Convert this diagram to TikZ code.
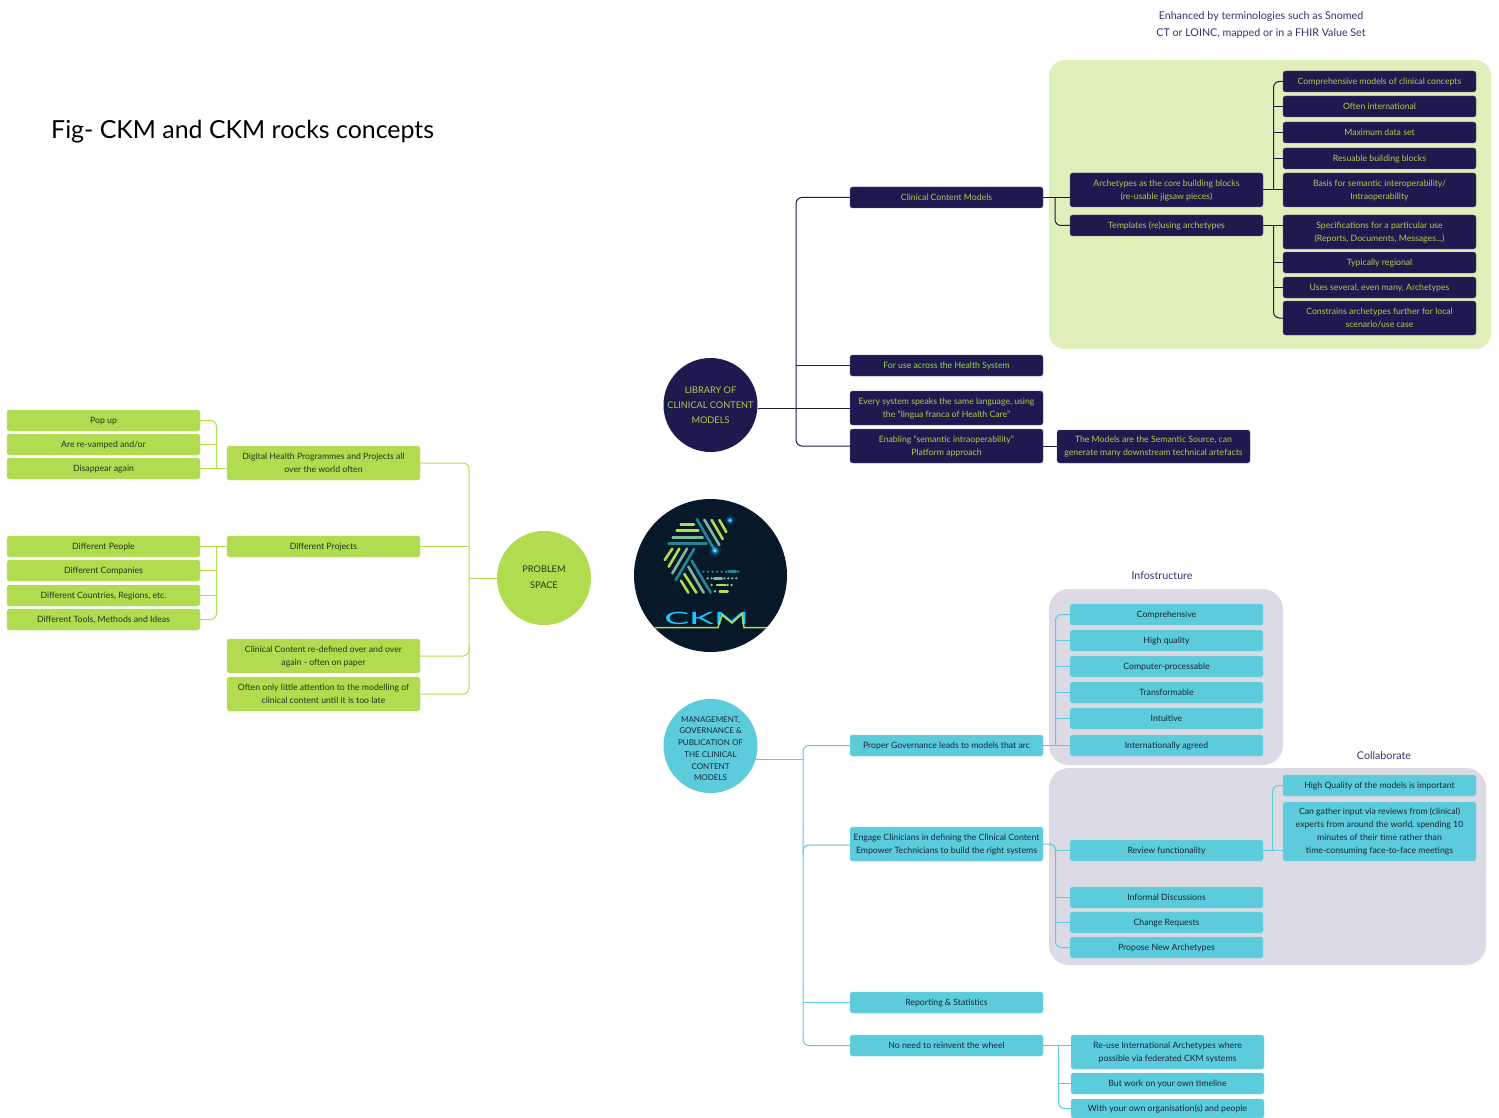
\documentclass[tikz,border=0pt]{standalone}
\usepackage{fontspec}
\setmainfont{Lato}
\definecolor{navy}{HTML}{1E1A4F}
\definecolor{lime}{HTML}{B2DC50}
\definecolor{limetxt}{HTML}{A9D04C}
\definecolor{tealb}{HTML}{5CCBDC}
\definecolor{darkt}{HTML}{14283A}
\definecolor{greent}{HTML}{24331A}
\definecolor{panelg}{HTML}{E0F0BB}
\definecolor{panelq}{HTML}{DCDBE5}
\definecolor{captxt}{HTML}{3A3170}
\definecolor{logobg}{HTML}{071828}
\definecolor{sage}{HTML}{7DB8A0}
\definecolor{logot}{HTML}{1F8796}
\definecolor{glow}{HTML}{19B8FF}
\tikzset{
  bbase/.style={rounded corners=2.5pt,inner sep=0pt,align=center,font=\fontsize{8.7}{13}\selectfont},
  nb/.style={bbase,fill=navy,draw=navy!70!white,line width=.4pt,text=limetxt},
  gb/.style={bbase,fill=lime,draw=lime!80!white,line width=.4pt,text=greent},
  tb/.style={bbase,fill=tealb,draw=tealb!80!white,line width=.4pt,text=darkt},
  navl/.style={draw=navy,line width=1pt,rounded corners=6pt},
  liml/.style={draw=lime,line width=1pt,rounded corners=6pt},
  teal1/.style={draw=tealb,line width=1pt,rounded corners=6pt},
  capt/.style={font=\fontsize{10.7}{17}\selectfont,text=captxt,align=center,inner sep=0pt},
  circn/.style={circle,inner sep=-8pt,minimum size=94pt,align=center},
  panelbox/.style={rounded corners=16pt,inner sep=0pt},
  lg/.style={line width=2.6pt,line cap=round,draw=lime},
  ls/.style={line width=2.6pt,line cap=round,draw=sage},
  lt/.style={line width=2.6pt,line cap=round,draw=logot}
}
\newcommand{\bx}[7]{%
  \pgfmathsetmacro{\bcx}{(#3+#5)/2}\pgfmathsetmacro{\bcy}{(#4+#6)/2}%
  \pgfmathsetmacro{\bw}{#5-#3}\pgfmathsetmacro{\bh}{#6-#4}%
  \node[#1,minimum width=\bw pt,minimum height=\bh pt] (#2) at (\bcx,\bcy) {\rule{0pt}{8.5pt}#7\rule[-3pt]{0pt}{3pt}};}
\begin{document}
\begin{tikzpicture}[x=1pt,y=-1pt]
\useasboundingbox (0,0) rectangle (1499,1118);
\fill[white] (0,0) rectangle (1499,1118);
% panels
\bx{panelbox,fill=panelg}{pa}{1049}{60}{1491}{349}{}
\bx{panelbox,fill=panelq,rounded corners=20pt}{pb}{1049}{589}{1283}{765}{}
\bx{panelbox,fill=panelq,rounded corners=20pt}{pc}{1049}{768}{1486}{965}{}
% captions
\node[font=\fontsize{24.9}{30}\selectfont,text=black,anchor=base west,inner sep=0pt] (title) at (51,139) {Fig- CKM and CKM rocks concepts};
\node[capt] (enh) at (1261,24.5) {Enhanced by terminologies such as Snomed\\CT or LOINC, mapped or in a FHIR Value Set};
\node[capt] (infos) at (1162,575.5) {Infostructure};
\node[capt] (coll) at (1384,755.5) {Collaborate};
% navy nodes
\node[circn,fill=navy,text=limetxt,font=\fontsize{9.2}{15}\selectfont] (lib) at (710.5,405) {LIBRARY OF\\CLINICAL CONTENT\\MODELS};
\bx{nb}{ccm}{850}{187}{1043}{208}{Clinical Content Models}
\bx{nb}{use}{850}{355}{1043}{376}{For use across the Health System}
\bx{nb}{every}{850}{391}{1043}{425}{Every system speaks the same language, using\\the “lingua franca of Health Care”}
\bx{nb}{enab}{850}{429}{1043}{463}{Enabling “semantic intraoperability”\\Platform approach}
\bx{nb}{sem}{1057}{430}{1250}{463}{The Models are the Semantic Source, can\\generate many downstream technical artefacts}
\bx{nb}{arch}{1070}{173}{1263}{207}{Archetypes as the core building blocks\\(re-usable jigsaw pieces)}
\bx{nb}{templ}{1070}{215}{1263}{236}{Templates (re)using archetypes}
\bx{nb}{r1}{1283}{71}{1476}{92}{Comprehensive models of clinical concepts}
\bx{nb}{r2}{1283}{96}{1476}{117}{Often international}
\bx{nb}{r3}{1283}{122}{1476}{143}{Maximum data set}
\bx{nb}{r4}{1283}{148}{1476}{169}{Resuable building blocks}
\bx{nb}{r5}{1283}{173}{1476}{207}{Basis for semantic interoperability/\\Intraoperability}
\bx{nb}{s1}{1283}{215}{1476}{249}{Specifications for a particular use\\(Reports, Documents, Messages...)}
\bx{nb}{s2}{1283}{252}{1476}{273}{Typically regional}
\bx{nb}{s3}{1283}{277}{1476}{298}{Uses several, even many, Archetypes}
\bx{nb}{s4}{1283}{301}{1476}{335}{Constrains archetypes further for local\\scenario/use case}
% green nodes
\node[circn,fill=lime,text=greent,font=\fontsize{9.2}{16}\selectfont] (prob) at (544,578) {PROBLEM\\SPACE\rule[-2pt]{0pt}{2pt}};
\bx{gb}{dig}{227}{446}{420}{480}{Digital Health Programmes and Projects all\\over the world often}
\bx{gb}{dp}{227}{536}{420}{557}{Different Projects}
\bx{gb}{clin}{227}{639}{420}{673}{Clinical Content re-defined over and over\\again - often on paper}
\bx{gb}{oft}{227}{677}{420}{711}{Often only little attention to the modelling of\\clinical content until it is too late}
\bx{gb}{pop}{7}{410}{200}{431}{Pop up}
\bx{gb}{rev}{7}{434}{200}{455}{Are re-vamped and/or}
\bx{gb}{dis}{7}{458}{200}{479}{Disappear again}
\bx{gb}{peo}{7}{536}{200}{557}{Different People}
\bx{gb}{com}{7}{560}{200}{581}{Different Companies}
\bx{gb}{cou}{7}{585}{200}{606}{Different Countries, Regions, etc.}
\bx{gb}{too}{7}{609}{200}{630}{Different Tools, Methods and Ideas}
% teal nodes
\node[circn,fill=tealb,text=darkt,font=\fontsize{8}{11.7}\selectfont] (mgt) at (710.5,746) {\rule{0pt}{11pt}MANAGEMENT,\\GOVERNANCE \&\\PUBLICATION OF\\THE CLINICAL\\CONTENT\\ MODELS};
\bx{tb}{prop}{850}{735}{1043}{756}{Proper Governance leads to models that arc}
\bx{tb}{eng}{850}{827}{1043}{861}{Engage Clinicians in defining the Clinical Content\\Empower Technicians to build the right systems}
\bx{tb}{rep}{850}{992}{1043}{1013}{Reporting \& Statistics}
\bx{tb}{noo}{850}{1035}{1043}{1056}{No need to reinvent the wheel}
\bx{tb}{i1}{1070}{604}{1263}{625}{Comprehensive}
\bx{tb}{i2}{1070}{630}{1263}{651}{High quality}
\bx{tb}{i3}{1070}{656}{1263}{677}{Computer-processable}
\bx{tb}{i4}{1070}{682}{1263}{703}{Transformable}
\bx{tb}{i5}{1070}{708}{1263}{729}{Intuitive}
\bx{tb}{i6}{1070}{735}{1263}{756}{Internationally agreed}
\bx{tb}{rf}{1070}{840}{1263}{861}{Review functionality}
\bx{tb}{inf}{1070}{887}{1263}{908}{Informal Discussions}
\bx{tb}{chg}{1070}{912}{1263}{933}{Change Requests}
\bx{tb}{pna}{1070}{937}{1263}{958}{Propose New Archetypes}
\bx{tb}{hq}{1283}{775}{1476}{796}{High Quality of the models is important}
\bx{tb}{cg}{1283}{802}{1476}{861}{Can gather input via reviews from (clinical)\\experts from around the world, spending 10\\minutes of their time rather than\\time-consuming face-to-face meetings}
\bx{tb}{reu}{1071}{1035}{1264}{1069}{Re-use International Archetypes where\\possible via federated CKM systems}
\bx{tb}{but}{1071}{1073}{1264}{1094}{But work on your own timeline}
\bx{tb}{wit}{1071}{1099}{1264}{1118}{With your own organisation(s) and people}
% trunk coordinates
\coordinate (tn) at (796,0);
\coordinate (tn2) at (1055,0);
\coordinate (tn3) at (1273.5,0);
\coordinate (tl) at (469,0);
\coordinate (tl2) at (216.5,0);
\coordinate (tm) at (803,0);
\coordinate (ti) at (1055.5,0);
\coordinate (tr) at (1272.5,0);
\coordinate (tw) at (1058.5,0);
% navy connectors
\draw[navl] (ccm.west) -- (tn |- ccm.west) -- (tn |- enab.west) -- (enab.west);
\draw[navl] (lib.east |- every.west) -- (every.west);
\draw[navl] (tn |- use.west) -- (use.west);
\draw[navl] (enab.east) -- (sem.west |- enab.east);
\draw[navl] (ccm.east) -- (arch.west |- ccm.east);
\draw[navl] (tn2 |- ccm.east) -- (tn2 |- templ.west) -- (templ.west);
\draw[navl] (r1.west) -- (tn3 |- r1.west) -- (tn3 |- r5.west);
\draw[navl] (arch.east |- r5.west) -- (r5.west);
\draw[navl] (tn3 |- r2.west) -- (r2.west);
\draw[navl] (tn3 |- r3.west) -- (r3.west);
\draw[navl] (tn3 |- r4.west) -- (r4.west);
\draw[navl] (templ.east) -- (s1.west |- templ.east);
\draw[navl] (tn3 |- templ.east) -- (tn3 |- s4.west) -- (s4.west);
\draw[navl] (tn3 |- s2.west) -- (s2.west);
\draw[navl] (tn3 |- s3.west) -- (s3.west);
% lime connectors
\draw[liml] (dig.east) -- (tl |- dig.east) -- (tl |- oft.east) -- (oft.east);
\draw[liml] (dp.east) -- (tl |- dp.east);
\draw[liml] (clin.east) -- (tl |- clin.east) -- ++(0,-10);
\draw[liml] (prob.west) -- (tl |- prob.west);
\draw[liml] (dig.west |- dis.east) -- (dis.east);
\draw[liml] (pop.east) -- (tl2 |- pop.east) -- (tl2 |- dis.east);
\draw[liml] (rev.east) -- (tl2 |- rev.east);
\draw[liml] (dp.west) -- (peo.east);
\draw[liml] (tl2 |- peo.east) -- (tl2 |- too.east) -- (too.east);
\draw[liml] (com.east) -- (tl2 |- com.east);
\draw[liml] (cou.east) -- (tl2 |- cou.east);
% teal connectors
\draw[teal1] (prop.west) -- (tm |- prop.west) -- (tm |- noo.west) -- (noo.west);
\draw[teal1] ([xshift=-2.5pt]mgt.east |- 0,759) -- (tm |- 0,759);
\draw[teal1] (eng.west |- 0,845) -- (tm |- 0,845) -- ++(0,8);
\draw[teal1] (tm |- rep.west) -- (rep.west);
\draw[teal1] (prop.east) -- (i6.west);
\draw[teal1] (i1.west) -- (ti |- i1.west) -- (ti |- i6.west);
\draw[teal1] (ti |- i2.west) -- (i2.west);
\draw[teal1] (ti |- i3.west) -- (i3.west);
\draw[teal1] (ti |- i4.west) -- (i4.west);
\draw[teal1] (ti |- i5.west) -- (i5.west);
\draw[teal1] (eng.east |- 0,844) -- (ti |- 0,844) -- (ti |- pna.west) -- (pna.west);
\draw[teal1] (ti |- rf.west) -- (rf.west);
\draw[teal1] (ti |- inf.west) -- (inf.west);
\draw[teal1] (ti |- chg.west) -- (chg.west);
\draw[teal1] (rf.east) -- (cg.west |- rf.east);
\draw[teal1] (hq.west) -- (tr |- hq.west) -- (tr |- rf.east);
\draw[teal1] (noo.east) -- (reu.west |- noo.east);
\draw[teal1] (tw |- noo.east) -- (tw |- wit.west) -- (wit.west);
\draw[teal1] (tw |- but.west) -- (but.west);
% logo
\node[circle,fill=logobg,inner sep=0pt,minimum size=153pt] (logo) at (710.5,575.5) {};
\begin{scope}[shift={(655,510)},x=.3333pt,y=-.3333pt]
\draw[lg] (77,43)--(117,43); \draw[lg] (65,62)--(130,62);
\draw[ls] (53,82)--(143,82); \draw[lt] (41,101)--(155,101);
\draw[lt] (126,28)--(180,122); \draw[ls] (148,29)--(193,105);
\draw[lg] (170,30)--(203,87); \draw[lg] (193,30)--(214,66);
\draw[lg] (29,150)--(52,116); \draw[lg] (41,170)--(73,116);
\draw[ls] (52,190)--(96,116); \draw[lt] (62,210)--(118,116);
\draw[lt] (110,152)--(167,248); \draw[ls] (100,170)--(146,248);
\draw[lg] (88,192)--(124,248); \draw[lg] (78,212)--(100,248);
\draw[lt,dash pattern=on 0pt off 4.6pt] (145,185)--(215,185);
\draw[lt,line width=3.4pt] (222,185)--(242,185);
\draw[lt,dash pattern=on 0pt off 4.6pt] (250,185)--(262,185);
\draw[ls,dash pattern=on 0pt off 4pt] (158,205)--(172,205);
\draw[ls] (178,205)--(200,205);
\draw[ls,dash pattern=on 0pt off 4pt] (208,205)--(248,205);
\draw[lg,dash pattern=on 0pt off 4pt] (170,225)--(182,225);
\draw[lg] (186,225)--(212,225);
\draw[lg,dash pattern=on 0pt off 4pt] (218,225)--(238,225);
\draw[lg,dash pattern=on 0pt off 4pt] (180,244)--(190,244);
\draw[lg] (194,244)--(218,244);
\foreach \gx/\gy/\gs in {225/31/1,180/122/1.2}{
  \fill[glow,opacity=.10] (\gx,\gy) circle (16*\gs);
  \fill[glow,opacity=.2] (\gx,\gy) circle (11*\gs);
  \fill[glow,opacity=.5] (\gx,\gy) circle (7.5*\gs);
  \fill[cyan!50!white] (\gx,\gy) circle (4.5*\gs);
}
\end{scope}
\node[inner sep=0pt,text=glow!70!cyan,font=\fontsize{17}{17}\selectfont,xscale=2.2] (ckm) at (706.5,618.5) {CKM};
\draw[lime,line width=1.5pt] (655,627.5) -- (718,627.5) -- (722,615) -- (732,623) -- (742,614) -- (744,627.5) -- (767,627.5);
\end{tikzpicture}
\end{document}
